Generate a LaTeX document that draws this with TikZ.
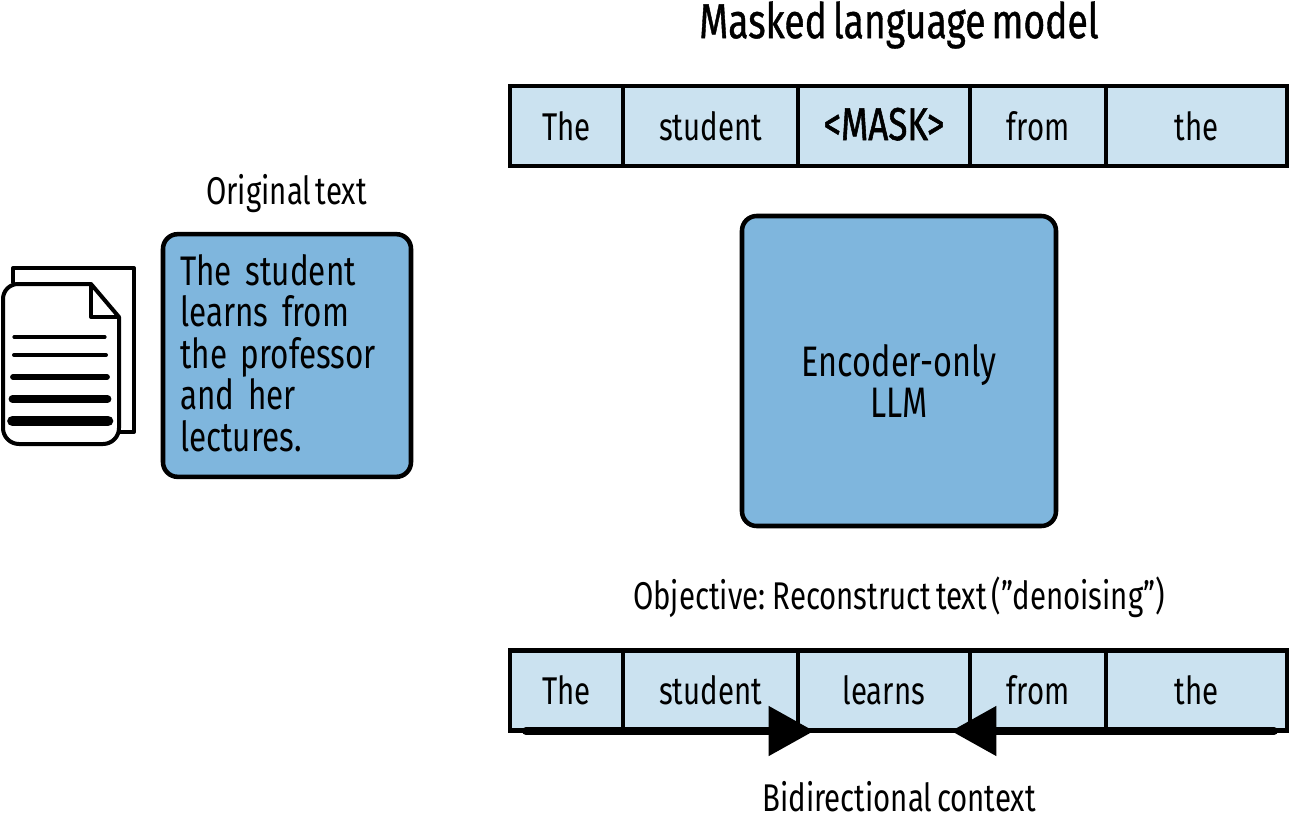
\documentclass[tikz,border=0pt]{standalone}
\usepackage{fontspec}
\setmainfont[FakeStretch=0.76, WordSpace=0.6]{Fira Sans}
\usetikzlibrary{arrows.meta}
\definecolor{cellblue}{HTML}{CBE2F0}
\definecolor{boxblue}{HTML}{7FB6DD}
\begin{document}
\begin{tikzpicture}[x=0.75pt, y=-0.75pt,
	every node/.style={text centered, inner sep=0pt, font=\fontsize{29}{33}\selectfont},
	cell/.style={rectangle, draw, line width=3.4pt, fill=cellblue, minimum height=60pt, outer sep=0pt, text height=21pt, text depth=0pt},
	modelbox/.style={rectangle, draw, line width=3.4pt, rounded corners=11pt, fill=boxblue, outer sep=0pt},
	bigtext/.style={font=\fontsize{32}{31.2}\selectfont},
	sourcetext/.style={font=\fontsize{31}{31.2}\selectfont},
	context/.style={line width=6pt, line cap=round, -{Triangle[length=34pt, width=36pt]}},
	page/.style={line width=3pt, line join=round},
	rule/.style={line cap=round}]
	% bounding box of the reference
	\useasboundingbox (0, 0) rectangle (1290, 819);

	\node (title) at (899, 25) {\fontsize{36.8}{40}\selectfont\addfontfeature{FakeBold=0.8}Masked language model};

	% masked row
	\draw 	(566.5, 126)	node[cell, minimum width=84.75pt] (maskThe) {The}
			(710.5, 126)	node[cell, minimum width=131.25pt] (maskStudent) {student}
			(884, 126)		node[cell, minimum width=129pt] (maskMask) {\fontsize{34.5}{33}\selectfont\addfontfeature{FakeBold=1.2}<MASK>}
			(1038, 126)		node[cell, minimum width=102pt] (maskFrom) {from}
			(1196.5, 126)	node[cell, minimum width=135.75pt] (maskLast) {the}
	;

	\node[modelbox, minimum width=235.5pt, minimum height=232.5pt] (encoder) at (899, 371) {};
	\node[bigtext, align=center] (encoderText) at (899, 381) {Encoder-only\\LLM};

	\node (objective) at (899, 597) {Objective: Reconstruct text ("denoising")};

	% reconstructed row
	\draw 	(566.5, 690.5)	node[cell, minimum width=84.75pt] (outThe) {The}
			(710.5, 690.5)	node[cell, minimum width=131.25pt] (outStudent) {student}
			(884, 690.5)	node[cell, minimum width=129pt] (outLearns) {learns}
			(1038, 690.5)	node[cell, minimum width=102pt] (outFrom) {from}
			(1196.5, 690.5)	node[cell, minimum width=135.75pt] (outLast) {the}
	;

	\coordinate (leftEnd) at (526, 731);
	\coordinate (leftTip) at (814, 731);
	\coordinate (rightEnd) at (1274, 731);
	\coordinate (rightTip) at (951, 731);
	\draw[context] (leftEnd) -- (leftTip);
	\draw[context] (rightEnd) -- (rightTip);

	\node (bidirectional) at (899, 797) {Bidirectional context};

	% original text
	\node (original) at (286.5, 194) {Original text};
	\node[modelbox, minimum width=186pt, minimum height=182pt] (source) at (287, 355.5) {};
	\node[sourcetext, text width=160pt, align=left] (sourceText) at (287, 353)
		{The student\\learns from\\the professor\\and her\\lectures.};

	% document icon
	\draw[page] (13, 283) -- (13, 268) -- (134, 268) -- (134, 432) -- (118, 432);
	\draw[page, fill=white] (91, 284) -- (18, 284) to[out=180, in=90] (3, 299) -- (3, 428)
		to[out=-90, in=180] (19, 444) -- (103, 444) to[out=0, in=-90] (119, 428) -- (119, 317) -- cycle;
	\draw[page] (91, 284) -- (91, 317) -- (119, 317);
	\draw[rule, line width=2.4pt] (14, 337) -- (105, 337);
	\draw[rule, line width=3pt] (14, 355) -- (106, 355);
	\draw[rule, line width=4.3pt] (13, 377) -- (107, 377);
	\draw[rule, line width=5.8pt] (12.5, 399) -- (107.5, 399);
	\draw[rule, line width=8pt] (12.5, 421) -- (108, 421);
\end{tikzpicture}
\end{document}
